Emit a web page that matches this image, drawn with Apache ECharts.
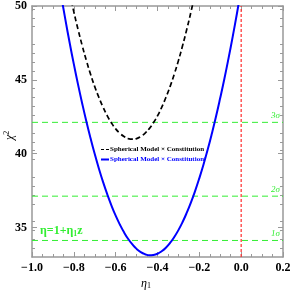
<!DOCTYPE html>
<html><head><meta charset="utf-8">
<script src="https://cdn.jsdelivr.net/npm/echarts@6/dist/echarts.min.js"></script>
<style>html,body{margin:0;padding:0;background:#fff}#c{width:291px;height:291px}</style>
</head><body><div id="c"></div>
<script>
const blueEta = [-0.86,-0.84,-0.82,-0.80,-0.78,-0.76,-0.74,-0.72,-0.70,-0.68,-0.66,-0.64,-0.62,-0.60,-0.58,-0.56,-0.54,-0.52,-0.50,-0.48,-0.46,-0.44,-0.42,-0.40,-0.38,-0.36,-0.34,-0.32,-0.30,-0.28,-0.26,-0.24,-0.22,-0.20,-0.18,-0.16,-0.14,-0.12,-0.10,-0.08,-0.06,-0.04,-0.02,0.00];
const blueChi = [50.64,49.04,47.51,46.06,44.69,43.40,42.18,41.04,39.97,38.98,38.07,37.24,36.48,35.80,35.20,34.67,34.22,33.85,33.55,33.33,33.19,33.12,33.14,33.22,33.39,33.63,33.95,34.35,34.82,35.37,36.00,36.70,37.48,38.34,39.27,40.28,41.37,42.53,43.78,45.09,46.49,47.96,49.51,51.14];
const blackEta = [-0.82,-0.80,-0.78,-0.76,-0.74,-0.72,-0.70,-0.68,-0.66,-0.64,-0.62,-0.60,-0.58,-0.56,-0.54,-0.52,-0.50,-0.48,-0.46,-0.44,-0.42,-0.40,-0.38,-0.36,-0.34,-0.32,-0.30,-0.28,-0.26,-0.24,-0.22];
const blackChi = [50.88,49.60,48.42,47.32,46.30,45.38,44.54,43.80,43.14,42.56,42.08,41.68,41.38,41.16,41.02,40.98,41.02,41.16,41.38,41.68,42.08,42.56,43.14,43.80,44.54,45.38,46.30,47.32,48.42,49.60,50.88];
const sigmaLevels = [34.12, 37.12, 42.12];
const sigmaLabels = ['1σ', '2σ', '3σ'];
const refEta = 0.0;
const xRange = [-1.0, 0.2];
const yRange = [33, 50];
const seriesNames = ['Spherical Model × Constitution', "Spherical Model × Constitution'"];
const yTicks = [35, 40, 45, 50];

const chart = echarts.init(document.getElementById('c'));
const frame = '#999';
const green = '#33ee33';
const tickFont = {fontFamily:'Liberation Serif', fontWeight:'bold', fontSize:12, color:'#000'};
const fmt = v => (v < 0 ? '\u2212' : '') + Math.abs(v).toFixed(1);

const sigmaSeries = sigmaLevels.map((v,i)=>({
  name:'sig'+i, type:'line', silent:true, showSymbol:false, symbol:'none', z:1,
  data:[[xRange[0], v],[xRange[1], v]],
  lineStyle:{color:green, type:[6,4], width:1},
  label:{show:false},
  endLabel:{show:true, formatter:sigmaLabels[i], color:green, fontFamily:'Liberation Serif',
            fontStyle:'italic', fontSize:9, offset:[-20,-7]}
}));

chart.setOption({
  animation:false,
  grid:{left:32, right:8, top:6, bottom:34, containLabel:false, outerBoundsMode:'none'},
  legend:{
    orient:'vertical', left:96, top:141, itemWidth:8, itemHeight:2, itemGap:3,
    textStyle:{fontFamily:'Liberation Serif', fontWeight:'bold', fontSize:7, padding:[0,0,0,-4]},
    data:[
      {name:seriesNames[0], icon:'path://M0,0H3V1H0Z M5,0H8V1H5Z', itemStyle:{color:'#000'}, textStyle:{color:'#000'}},
      {name:seriesNames[1], icon:'rect', itemStyle:{color:'#0000ff'}, textStyle:{color:'#0000ff'}}
    ]
  },
  xAxis:[{
    type:'value', min:xRange[0], max:xRange[1], interval:0.2, position:'bottom',
    axisLine:{onZero:false, lineStyle:{color:frame, width:1.5}},
    axisTick:{inside:true, length:5, lineStyle:{color:frame}},
    minorTick:{show:true, splitNumber:4, length:3, lineStyle:{color:frame}},
    splitLine:{show:false},
    axisLabel:Object.assign({formatter:fmt, margin:5}, tickFont)
  },{
    type:'value', min:xRange[0], max:xRange[1], interval:0.2, position:'top',
    axisLine:{onZero:false, lineStyle:{color:frame, width:1.5}},
    axisTick:{inside:true, length:5, lineStyle:{color:frame}},
    minorTick:{show:true, splitNumber:4, length:3, lineStyle:{color:frame}},
    splitLine:{show:false}, axisLabel:{show:false}
  }],
  yAxis:[{
    type:'value', min:yRange[0], max:yRange[1], position:'left',
    axisLine:{show:true, onZero:false, lineStyle:{color:frame, width:1.5}},
    axisTick:{show:true, inside:true, length:5, lineStyle:{color:frame}, customValues:yTicks},
    minorTick:{show:true, splitNumber:5, length:3, lineStyle:{color:frame}},
    splitLine:{show:false},
    axisLabel:Object.assign({margin:5, customValues:yTicks}, tickFont)
  },{
    type:'value', min:yRange[0], max:yRange[1], position:'right',
    axisLine:{show:true, onZero:false, lineStyle:{color:frame, width:1.5}},
    axisTick:{show:true, inside:true, length:5, lineStyle:{color:frame}, customValues:yTicks},
    minorTick:{show:true, splitNumber:5, length:3, lineStyle:{color:frame}},
    splitLine:{show:false}, axisLabel:{show:false}
  }],
  series:[
    ...sigmaSeries,
    {name:'ref', type:'line', silent:true, showSymbol:false, symbol:'none', z:1,
     data:[[refEta, yRange[0]],[refEta, yRange[1]]],
     lineStyle:{color:'#ff2a2a', type:[3,2], width:1.2}},
    {name:seriesNames[0], type:'line', showSymbol:false, smooth:true, clip:true, z:3,
     data:blackEta.map((x,i)=>[x, blackChi[i]]),
     lineStyle:{color:'#000', width:1.7, type:[5,3]}, itemStyle:{color:'#000'}},
    {name:seriesNames[1], type:'line', showSymbol:false, smooth:true, clip:true, z:3,
     data:blueEta.map((x,i)=>[x, blueChi[i]]),
     lineStyle:{color:'#0000ff', width:2}, itemStyle:{color:'#0000ff'}}
  ],
  graphic:[
    {type:'text', left:40, top:225,
     style:{text:'η=1+η{s|1}z', fill:green, font:'bold 12px "Liberation Serif"',
       rich:{s:{fill:green, font:'bold 8px "Liberation Serif"', padding:[5,0,0,0]}}}},
    {type:'text', x:141, y:277,
     style:{text:'η{s|1}', fill:'#000', font:'italic 12px "Liberation Serif"',
       rich:{s:{fill:'#000', font:'8px "Liberation Serif"', padding:[5,0,0,0]}}}},
    {type:'text', x:3, y:140, rotation:Math.PI/2,
     style:{text:'χ{p|2}', fill:'#000', font:'italic 12px "Liberation Serif"',
       rich:{p:{fill:'#000', font:'8px "Liberation Serif"', padding:[0,0,6,0]}}}}
  ]
});
</script></body></html>
